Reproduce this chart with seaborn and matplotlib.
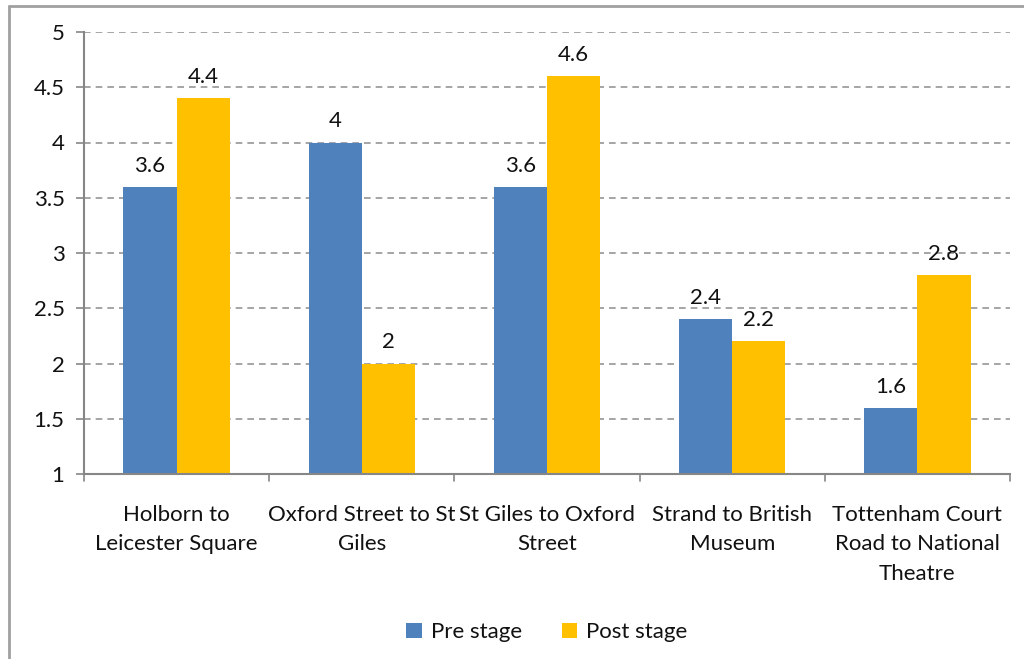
import matplotlib
matplotlib.use("Agg")
from matplotlib import pyplot as plt
from matplotlib.lines import Line2D
import seaborn as sns
import pandas as pd

# data
routes = ["Holborn to\nLeicester Square", "Oxford Street to St\nGiles",
          "St Giles to Oxford\nStreet", "Strand to British\nMuseum",
          "Tottenham Court\nRoad to National\nTheatre"]
pre_stage = [3.6, 4.0, 3.6, 2.4, 1.6]
post_stage = [4.4, 2.0, 4.6, 2.2, 2.8]
series = ["Pre stage", "Post stage"]
colors = ["#4F81BD", "#FFC000"]

df = pd.DataFrame({
    "route": routes * 2,
    "value": pre_stage + post_stage,
    "stage": [series[0]] * len(routes) + [series[1]] * len(routes),
})

sns.set_style("white")
plt.rcParams["font.family"] = ["Lato", "DejaVu Sans"]
plt.rcParams["text.color"] = "#111111"
fs = 16

fig = plt.figure(figsize=(10.24, 6.59), dpi=100)
ax = fig.add_axes([84 / 1024, 1 - 474 / 659, (1010 - 84) / 1024, (474 - 32) / 659])

sns.barplot(data=df, x="route", y="value", hue="stage", palette=colors,
            width=0.575, gap=0, ax=ax, saturation=1, linewidth=0)

# category separator ticks on the x axis
for i in range(len(routes) + 1):
    ax.plot([i - 0.5, i - 0.5], [1, 0.94], color="#868686", lw=1.2,
            clip_on=False)

# bars start from the axis bottom (1), as in the Excel chart
ax.set_ylim(1, 5)
ax.set_xlim(-0.5, len(routes) - 0.5)
ax.set_yticks([1, 1.5, 2, 2.5, 3, 3.5, 4, 4.5, 5])
ax.set_yticklabels(["1", "1.5", "2", "2.5", "3", "3.5", "4", "4.5", "5"], fontsize=fs,
                   color="#111111")
ax.set_xticks(range(len(routes)))
ax.set_xticklabels(routes, fontsize=fs, linespacing=1.6, color="#111111")
ax.tick_params(axis="x", length=0, pad=22)
ax.tick_params(axis="y", length=6, width=1.2, color="#868686", left=True, pad=8)
ax.set_xlabel("")
ax.set_ylabel("")

ax.yaxis.grid(True, linestyle=(0, (4, 3)), color="#969696", linewidth=1.2)
ax.set_axisbelow(True)
for s in ["top", "right"]:
    ax.spines[s].set_visible(False)
for s in ["left", "bottom"]:
    ax.spines[s].set_color("#868686")
    ax.spines[s].set_linewidth(1.5)

for cont in ax.containers:
    ax.bar_label(cont, labels=[f"{v:g}" for v in cont.datavalues],
                 padding=8, fontsize=fs, color="#111111")

ax.legend(loc="upper center", bbox_to_anchor=(0.5, -0.29), ncol=2, frameon=False,
          fontsize=fs, handlelength=0.7, handleheight=0.7, handletextpad=0.4,
          columnspacing=1.8)

# chart border (top and left visible in the crop)
fig.add_artist(Line2D([9 / 1024, 9 / 1024], [0, 1 - 6 / 659], color="#a0a0a0", lw=2))
fig.add_artist(Line2D([9 / 1024, 1], [1 - 6 / 659, 1 - 6 / 659], color="#a0a0a0", lw=2))

fig.savefig("out.png", dpi=100)
